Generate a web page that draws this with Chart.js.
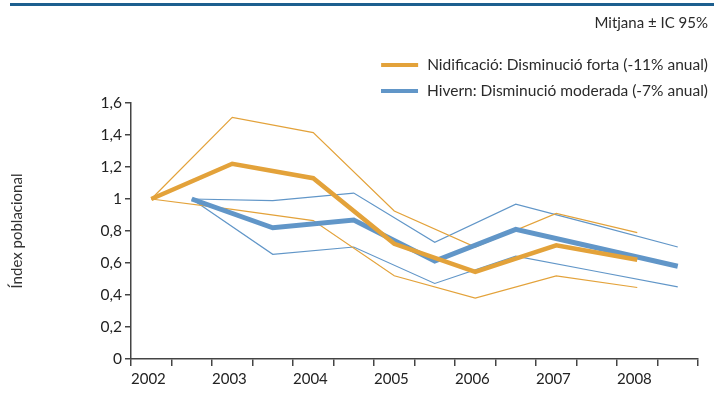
<!DOCTYPE html>
<html>
<head>
<meta charset="utf-8">
<script src="https://cdn.jsdelivr.net/npm/chart.js@4.4.0/dist/chart.umd.min.js"></script>
<style>
  html, body { margin: 0; padding: 0; background: #fff; }
  #wrap { position: relative; width: 714px; height: 413px; }
</style>
</head>
<body>
<div id="wrap"><canvas id="grafic" width="714" height="413"></canvas></div>
<script>
// anys i índexs (mitjana i interval de confiança 95%)
var anys = [2002, 2003, 2004, 2005, 2006, 2007, 2008];

var nidMitjana = [1.0, 1.22, 1.13, 0.72, 0.545, 0.71, 0.62];
var nidSup     = [1.0, 1.51, 1.415, 0.925, 0.70, 0.91, 0.79];
var nidInf     = [1.0, 0.935, 0.865, 0.52, 0.38, 0.52, 0.447];

var hivMitjana = [1.0, 0.82, 0.868, 0.612, 0.81, 0.695, 0.58];
var hivSup     = [1.0, 0.99, 1.037, 0.73, 0.968, 0.835, 0.70];
var hivInf     = [1.0, 0.654, 0.70, 0.472, 0.643, 0.547, 0.451];

var etiquetaNid = "Nidificació: Disminució forta (-11% anual)";
var etiquetaHiv = "Hivern: Disminució moderada (-7% anual)";
var subtitol = "Mitjana ± IC 95%";
var titolY = "Índex poblacional";

var taronja = "#e3a23a";
var blau = "#6196c8";
var font = "Lato, 'Open Sans', sans-serif";

// la nidificació es dibuixa a l'inici de cada any i l'hivern a la segona meitat
function punts(valors, despl) {
    var res = [];
    for (var i = 0; i < anys.length; i++) {
        res.push({ x: anys[i] + despl, y: valors[i] });
    }
    return res;
}

function serie(valors, despl, color, gruix, label) {
    return {
        label: label || "",
        data: punts(valors, despl),
        borderColor: color,
        backgroundColor: color,
        borderWidth: gruix,
        pointRadius: 0,
        tension: 0,
        fill: false,
        borderJoinStyle: "miter",
        enLlegenda: !!label
    };
}

// capçalera, línia superior i llegenda
var capcalera = {
    id: "capcalera",
    afterDraw: function (chart) {
        var ctx = chart.ctx;
        ctx.save();
        ctx.fillStyle = "#1c5f8f";
        ctx.fillRect(10, 3, 704, 3);

        ctx.fillStyle = "#2a2a2a";
        ctx.font = "15px " + font;
        ctx.textAlign = "right";
        ctx.textBaseline = "middle";
        ctx.fillText(subtitol, 708, 23);

        var y = 65;
        ctx.font = "15.5px " + font;
        chart.data.datasets.forEach(function (ds) {
            if (!ds.enLlegenda) return;
            var w = ctx.measureText(ds.label).width;
            var xt = 708 - w;
            ctx.fillStyle = ds.borderColor;
            ctx.fillRect(xt - 46, y - 2, 37, 4);
            ctx.fillStyle = "#2a2a2a";
            ctx.textAlign = "left";
            ctx.fillText(ds.label, xt, y);
            y += 26;
        });
        ctx.restore();
    }
};

var ctx = document.getElementById("grafic").getContext("2d");
window.grafic = new Chart(ctx, {
    type: "line",
    data: {
        datasets: [
            serie(nidMitjana, 0.25, taronja, 4.5, etiquetaNid),
            serie(hivMitjana, 0.75, blau, 5, etiquetaHiv),
            serie(nidSup, 0.25, taronja, 1.2),
            serie(nidInf, 0.25, taronja, 1.2),
            serie(hivSup, 0.75, blau, 1.2),
            serie(hivInf, 0.75, blau, 1.2)
        ]
    },
    options: {
        responsive: false,
        animation: false,
        layout: { padding: { top: 103, right: 16, left: 0, bottom: 0 } },
        plugins: {
            legend: { display: false },
            tooltip: { enabled: false }
        },
        scales: {
            x: {
                type: "linear",
                min: 2002,
                max: 2009,
                afterFit: function (scale) { scale.height = 54; },
                border: { color: "#444", width: 1.5 },
                grid: { drawOnChartArea: false, tickLength: 7, tickColor: "#444", lineWidth: 1.5 },
                ticks: {
                    stepSize: 0.5,
                    autoSkip: false,
                    maxRotation: 0,
                    align: "start",
                    padding: 4,
                    color: "#222",
                    font: { family: font, size: 15 },
                    callback: function (v) {
                        return (Number.isInteger(v) && v < 2009) ? String(v) : "";
                    }
                }
            },
            y: {
                min: 0,
                max: 1.6,
                afterFit: function (scale) { scale.width = 131; },
                border: { color: "#444", width: 1.5 },
                grid: { drawOnChartArea: false, tickLength: 6, tickColor: "#444", lineWidth: 1.5 },
                ticks: {
                    stepSize: 0.2,
                    padding: 3,
                    color: "#222",
                    font: { family: font, size: 15.5 },
                    callback: function (v) {
                        return String(Math.round(v * 10) / 10).replace(".", ",");
                    }
                },
                title: {
                    display: true,
                    text: titolY,
                    color: "#333",
                    font: { family: font, size: 15 },
                    padding: { top: 8, bottom: 0 }
                }
            }
        }
    },
    plugins: [capcalera]
});
</script>
</body>
</html>
